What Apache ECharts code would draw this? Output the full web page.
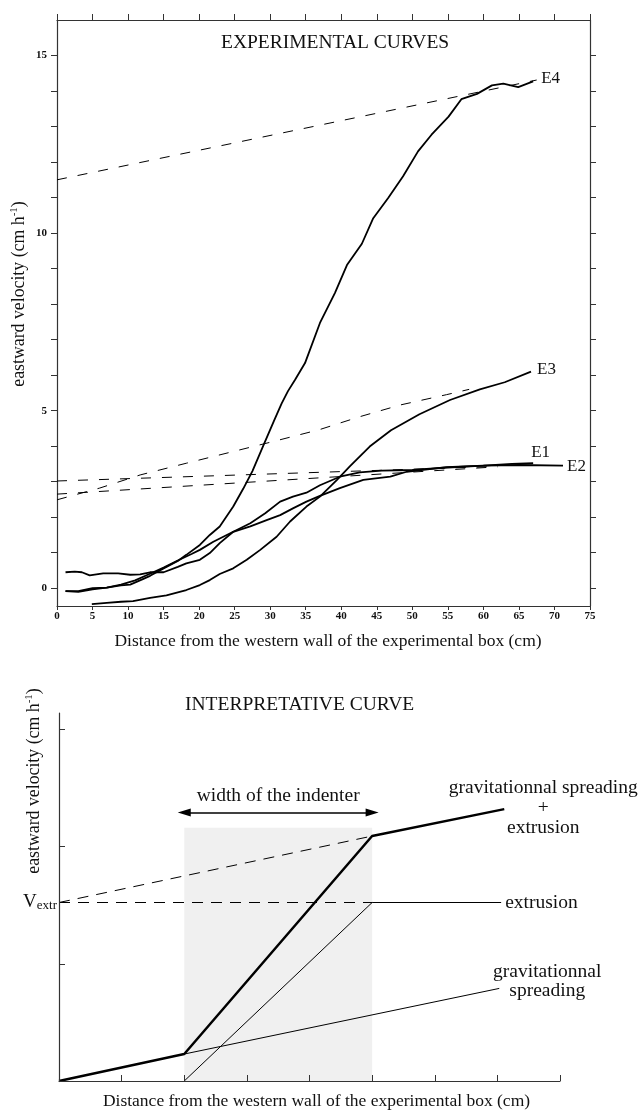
<!DOCTYPE html>
<html>
<head>
<meta charset="utf-8">
<script src="https://cdn.jsdelivr.net/npm/echarts@6/dist/echarts.min.js"></script>
<style>html,body{margin:0;padding:0;background:#fff}#c{width:640px;height:1111px}</style>
</head>
<body>
<div id="c"></div>
<script>
// ---------- top panel data (distance cm, velocity cm/h) ----------
const topXTicks = [0,5,10,15,20,25,30,35,40,45,50,55,60,65,70,75];
const topYLabels = [0,5,10,15];
const topYTicks = [0,1,2,3,4,5,6,7,8,9,10,11,12,13,14,15];

const curveE1 = [[1.2,0.45],[2.5,0.47],[3.5,0.45],[4.6,0.36],[6.5,0.42],[8.6,0.42],[10.3,0.38],[11.7,0.39],[13.1,0.45],[15,0.45],[17,0.6],[18.2,0.7],[20.1,0.8],[21.5,0.99],[22.9,1.27],[24.8,1.59],[27.2,1.83],[29.3,2.11],[31.4,2.44],[33.2,2.58],[35.1,2.69],[37,2.9],[39.8,3.14],[42.6,3.26],[45.7,3.31],[50,3.33],[55,3.4],[60,3.45],[64,3.5],[67,3.52]];
const curveE2 = [[1.2,-0.08],[3,-0.1],[5,-0.03],[7,0.02],[9,0.1],[11,0.22],[13,0.4],[15,0.58],[17,0.78],[19,0.97],[20.1,1.08],[22,1.31],[24.8,1.59],[27.2,1.74],[29.5,1.92],[31.4,2.06],[33.2,2.25],[35.1,2.44],[37,2.6],[39.8,2.82],[43.1,3.05],[46.9,3.14],[49.2,3.28],[54.8,3.41],[60,3.45],[65,3.47],[71.2,3.45]];
const curveE3 = [[4.9,-0.45],[7,-0.41],[9,-0.38],[10.7,-0.36],[13.1,-0.27],[15.4,-0.2],[18.2,-0.05],[20.1,0.09],[21.5,0.23],[22.9,0.4],[24.8,0.56],[26.7,0.8],[28.6,1.08],[30.9,1.45],[32.8,1.88],[35.1,2.3],[37,2.58],[39.4,3.05],[41.2,3.43],[44,3.99],[47,4.45],[51,4.9],[55.3,5.3],[59.5,5.6],[63,5.8],[66.7,6.1]];
const curveE4 = [[1.2,-0.08],[3,-0.08],[5,0.0],[7,0.02],[9,0.08],[10.3,0.1],[12,0.25],[13.1,0.35],[15,0.56],[17,0.77],[18.2,0.94],[20.1,1.22],[21.5,1.5],[22.9,1.74],[24.8,2.3],[26.2,2.8],[27.5,3.3],[29,4.0],[30.5,4.7],[31.6,5.2],[32.5,5.55],[33.5,5.87],[34.9,6.34],[37,7.47],[39.1,8.31],[40.8,9.1],[42.9,9.7],[44.5,10.42],[46.6,10.99],[48.7,11.6],[50.8,12.3],[52.7,12.77],[55.1,13.28],[56.9,13.77],[59.1,13.92],[61.2,14.16],[62.8,14.21],[64.9,14.11],[67,14.27]];

const fitE1 = [[0,3.02],[62,3.43]];
const fitE2 = [[0,2.65],[62,3.42]];
const fitE3 = [[0,2.49],[6,2.82],[11.7,3.19],[18.2,3.52],[24.8,3.85],[30.4,4.13],[37,4.47],[42.6,4.83],[48.3,5.16],[54.8,5.45],[58,5.6]];
const fitE4 = [[0,11.5],[67.5,14.31]];

// ---------- bottom panel data (schematic units) ----------
const vExtr = 1.523;
const indenterStart = 2, indenterEnd = 5;
const indenterShadeTop = 2.16;
const indenterArrowY = 2.29;
const totalCurve = [[0,0],[2,0.23],[5,2.09],[7.11,2.32]];
const gravCurve = [[2,0.23],[7.03,0.79]];
const extrCurve = [[2,0],[5,vExtr],[7.06,vExtr]];
const vExtrDashed = [[0,vExtr],[5,vExtr]];
const slopeDashed = [[0,vExtr],[5,2.09]];
const bottomYTicks = [1,2,3];

const FONT = 'Liberation Serif';
const AX = '#333';
const ANN = 19.5;

function curve(name, data, label, off) {
  return {
    type: 'line', xAxisIndex: 0, yAxisIndex: 0, data: data, showSymbol: false, z: 4,
    lineStyle: {color: '#000', width: 1.8},
    endLabel: label ? {show: true, formatter: label, distance: 0, offset: off, align: 'left', verticalAlign: 'middle',
      fontFamily: FONT, fontSize: 17, color: '#111'} : {show: false},
    silent: true, animation: false
  };
}
function dashed(data, xi, yi, dash) {
  return {type: 'line', xAxisIndex: xi, yAxisIndex: yi, data: data, showSymbol: false, z: 3,
    lineStyle: {color: '#000', width: 1, type: dash}, silent: true, animation: false};
}
const nameRich = {
  a: {fontFamily: FONT, fontSize: 17.8, color: '#111', lineHeight: 20},
  s: {fontFamily: FONT, fontSize: 11, color: '#111', verticalAlign: 'top', lineHeight: 14}
};

const chart = echarts.init(document.getElementById('c'), null, {renderer: 'canvas'});
chart.setOption({
  animation: false,
  backgroundColor: '#fff',
  title: [
    {text: 'EXPERIMENTAL CURVES', left: 221, top: 33, padding: 0,
     textStyle: {fontFamily: FONT, fontSize: 19.5, fontWeight: 'normal', color: '#111'}},
    {text: 'INTERPRETATIVE CURVE', left: 185, top: 695, padding: 0,
     textStyle: {fontFamily: FONT, fontSize: 19.5, fontWeight: 'normal', color: '#111'}}
  ],
  grid: [
    {left: 57, top: 20, width: 533, height: 586, containLabel: false, outerBoundsMode: 'none'},
    {left: 59, top: 713, width: 501, height: 368, containLabel: false, outerBoundsMode: 'none'}
  ],
  xAxis: [
    {type: 'value', gridIndex: 0, position: 'bottom', min: 0, max: 75, interval: 5,
     axisLine: {onZero: false, lineStyle: {color: AX, width: 1.2}},
     axisTick: {length: 4, lineStyle: {color: AX}},
     axisLabel: {margin: 5, fontFamily: FONT, fontSize: 11, fontWeight: 'bold', color: '#111',
       customValues: topXTicks},
     splitLine: {show: false},
     name: 'Distance from the western wall of the experimental box (cm)', nameLocation: 'middle', nameGap: 26,
     nameMoveOverlap: false,
     nameTextStyle: {fontFamily: FONT, fontSize: 17.5, color: '#111', padding: [0, 0, 0, 9]}},
    {type: 'value', gridIndex: 0, position: 'top', min: 0, max: 75, interval: 5,
     axisLine: {onZero: false, lineStyle: {color: AX, width: 1.2}},
     axisTick: {length: 6, lineStyle: {color: AX}},
     axisLabel: {show: false}, splitLine: {show: false}},
    {type: 'value', gridIndex: 1, position: 'bottom', min: 0, max: 8, interval: 1, z: 10,
     axisLine: {onZero: false, lineStyle: {color: AX, width: 1.2}},
     axisTick: {inside: true, length: 6, lineStyle: {color: AX}},
     axisLabel: {show: false}, splitLine: {show: false},
     name: 'Distance from the western wall of the experimental box (cm)', nameLocation: 'middle', nameGap: 11,
     nameMoveOverlap: false,
     nameTextStyle: {fontFamily: FONT, fontSize: 17.5, color: '#111', padding: [0, 0, 0, 14]}}
  ],
  yAxis: [
    {type: 'value', gridIndex: 0, position: 'left', min: -0.5, max: 16,
     axisLine: {show: true, onZero: false, lineStyle: {color: AX, width: 1.2}},
     axisTick: {show: true, length: 6, lineStyle: {color: AX}, customValues: topYTicks},
     axisLabel: {margin: 10, fontFamily: FONT, fontSize: 11, fontWeight: 'bold', color: '#111', customValues: topYLabels},
     splitLine: {show: false},
     name: '{a|eastward velocity (cm h}{s|-1}{a|)}', nameLocation: 'middle', nameGap: 28,
     nameMoveOverlap: false,
     nameTextStyle: {padding: [0, 0, 0, 38], rich: nameRich}},
    {type: 'value', gridIndex: 0, position: 'right', min: -0.5, max: 16,
     axisLine: {show: true, onZero: false, lineStyle: {color: AX, width: 1.2}},
     axisTick: {show: true, length: 6, lineStyle: {color: AX}, customValues: topYTicks},
     axisLabel: {show: false}, splitLine: {show: false}},
    {type: 'value', gridIndex: 1, position: 'left', min: 0, max: 3.14, z: 10,
     axisLine: {show: true, onZero: false, lineStyle: {color: AX, width: 1.2}},
     axisTick: {show: true, inside: true, length: 6, lineStyle: {color: AX}, customValues: bottomYTicks},
     axisLabel: {margin: 2, customValues: [vExtr], formatter: function () { return '{v|V}{s|extr}'; },
       rich: {v: {fontFamily: FONT, fontSize: 19, color: '#111', lineHeight: 20},
              s: {fontFamily: FONT, fontSize: 13, color: '#111', verticalAlign: 'bottom', lineHeight: 14}}},
     splitLine: {show: false},
     name: '{a|eastward velocity (cm h}{s|-1}{a|)}', nameLocation: 'middle', nameGap: 15,
     nameMoveOverlap: false,
     nameTextStyle: {padding: [0, 0, 0, 232], rich: nameRich}}
  ],
  series: [
    dashed(fitE1, 0, 0, [10, 11]),
    dashed(fitE2, 0, 0, [10, 11]),
    dashed(fitE3, 0, 0, [10, 11]),
    dashed(fitE4, 0, 0, [10, 11]),
    curve('E1', curveE1, 'E1', [-2, -11]),
    curve('E2', curveE2, 'E2', [4, 1]),
    curve('E3', curveE3, 'E3', [6, -2]),
    curve('E4', curveE4, 'E4', [8, -3]),
    // bottom panel
    {type: 'line', xAxisIndex: 2, yAxisIndex: 2, data: [], z: 1, silent: true,
     markArea: {silent: true, itemStyle: {color: '#f0f0f0'},
       data: [[{coord: [indenterStart, 0]}, {coord: [indenterEnd, indenterShadeTop]}]]},
     markLine: {silent: true, symbol: ['triangle', 'triangle'], symbolSize: [8, 13],
       lineStyle: {color: '#000', width: 1.5, type: 'solid'},
       label: {show: true, position: 'middle', distance: 7, formatter: 'width of the indenter',
         fontFamily: FONT, fontSize: ANN, color: '#111'},
       data: [[{coord: [indenterStart, indenterArrowY]}, {coord: [indenterEnd, indenterArrowY]}]]}},
    dashed(vExtrDashed, 2, 2, [11, 8]),
    dashed(slopeDashed, 2, 2, [11, 8]),
    {type: 'line', xAxisIndex: 2, yAxisIndex: 2, data: extrCurve, showSymbol: false, z: 4, silent: true,
     lineStyle: {color: '#000', width: 1},
     endLabel: {show: true, formatter: 'extrusion', distance: 0, offset: [4, 0], align: 'left', verticalAlign: 'middle',
       fontFamily: FONT, fontSize: ANN, color: '#111'}},
    {type: 'line', xAxisIndex: 2, yAxisIndex: 2, data: gravCurve, showSymbol: false, z: 4, silent: true,
     lineStyle: {color: '#000', width: 1},
     endLabel: {show: true, formatter: 'gravitationnal\nspreading', distance: 0, offset: [48, -7], align: 'center',
       verticalAlign: 'middle', lineHeight: 19, fontFamily: FONT, fontSize: ANN, color: '#111'}},
    {type: 'line', xAxisIndex: 2, yAxisIndex: 2, data: totalCurve, showSymbol: false, z: 5, silent: true,
     lineStyle: {color: '#000', width: 2.5},
     endLabel: {show: true, formatter: 'gravitationnal spreading\n+\nextrusion', distance: 0, offset: [39, -1],
       align: 'center', verticalAlign: 'middle', lineHeight: 20, fontFamily: FONT, fontSize: ANN, color: '#111'}}
  ]
});
</script>
</body>
</html>
